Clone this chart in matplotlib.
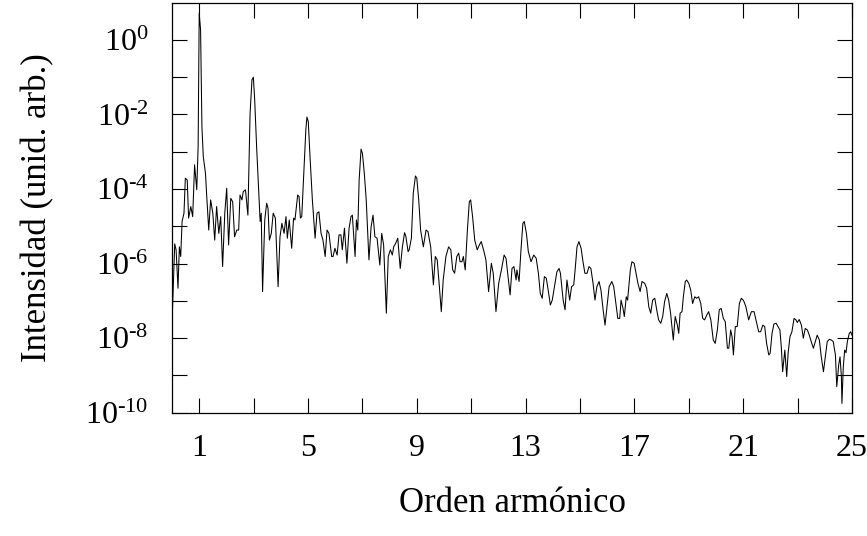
import numpy as np
import matplotlib
matplotlib.use("Agg")
import matplotlib.pyplot as plt
from matplotlib.ticker import FixedLocator, FuncFormatter, NullLocator

# Harmonic order (x) and log10 of intensity (arb. units)
harmonic_order = [
    0.00, 0.10, 0.15, 0.22, 0.27, 0.32, 0.37, 0.44, 0.49, 0.56, 0.61, 0.69, 0.76, 0.83, 0.91, 0.96,
    1.00, 1.05, 1.10, 1.15, 1.23, 1.27, 1.35, 1.42, 1.50, 1.57, 1.64, 1.72, 1.79, 1.86, 1.94,
    2.01, 2.08, 2.16, 2.23, 2.30, 2.38, 2.45, 2.50, 2.57, 2.62, 2.70, 2.79, 2.87, 2.94, 2.99,
    3.04, 3.11, 3.19, 3.24, 3.28, 3.33, 3.41, 3.48, 3.53, 3.58, 3.65, 3.72, 3.80, 3.90, 3.97,
    4.04, 4.12, 4.19, 4.24, 4.31, 4.40, 4.47, 4.52, 4.62, 4.67, 4.72, 4.77, 4.84, 4.92, 4.96,
    5.01, 5.08, 5.16, 5.26, 5.33, 5.40, 5.48, 5.55, 5.63, 5.70, 5.77, 5.87, 5.92, 5.99,
    6.07, 6.14, 6.21, 6.26, 6.34, 6.43, 6.51, 6.58, 6.63, 6.73, 6.78, 6.83, 6.88, 6.95,
    7.00, 7.07, 7.14, 7.24, 7.32, 7.39, 7.46, 7.54, 7.64, 7.71, 7.78, 7.88, 7.95,
    8.03, 8.10, 8.15, 8.22, 8.30, 8.39, 8.47, 8.55, 8.60, 8.68, 8.72, 8.80, 8.87, 8.95,
    9.00, 9.07, 9.14, 9.24, 9.34, 9.41, 9.51, 9.61, 9.68, 9.75, 9.83, 9.90, 9.97,
    10.07, 10.17, 10.25, 10.32, 10.39, 10.47, 10.54, 10.59, 10.66, 10.71, 10.78, 10.86, 10.93, 10.98,
    11.05, 11.13, 11.22, 11.30, 11.37, 11.47, 11.54, 11.64, 11.74, 11.81, 11.91,
    12.01, 12.11, 12.21, 12.28, 12.35, 12.43, 12.50, 12.57, 12.65, 12.68, 12.76, 12.83, 12.90, 12.95,
    13.03, 13.10, 13.20, 13.30, 13.39, 13.47, 13.54, 13.61, 13.69, 13.76, 13.83, 13.91, 13.98,
    14.06, 14.15, 14.23, 14.28, 14.38, 14.45, 14.52, 14.57, 14.62, 14.69, 14.77, 14.82, 14.89, 14.96,
    15.04, 15.11, 15.18, 15.26, 15.33, 15.40, 15.48, 15.55, 15.62, 15.70, 15.77, 15.85, 15.92, 15.99,
    16.07, 16.17, 16.24, 16.31, 16.39, 16.46, 16.51, 16.58, 16.63, 16.70, 16.75, 16.85, 16.91, 16.99,
    17.06, 17.13, 17.21, 17.28, 17.38, 17.45, 17.53, 17.60, 17.67, 17.75, 17.82, 17.89, 17.97,
    18.04, 18.11, 18.19, 18.26, 18.33, 18.43, 18.50, 18.58, 18.63, 18.68, 18.75, 18.80, 18.87, 18.92,
    19.00, 19.07, 19.14, 19.22, 19.29, 19.36, 19.44, 19.51, 19.58, 19.66, 19.73, 19.81, 19.90, 19.97,
    20.05, 20.12, 20.19, 20.27, 20.34, 20.42, 20.47, 20.54, 20.59, 20.64, 20.71, 20.78, 20.86, 20.93,
    21.00, 21.03, 21.10, 21.20, 21.30, 21.40, 21.47, 21.57, 21.64, 21.72, 21.79, 21.86, 21.94, 21.99,
    22.06, 22.13, 22.21, 22.28, 22.35, 22.40, 22.45, 22.53, 22.60, 22.65, 22.72, 22.79, 22.87, 22.94, 22.99,
    23.06, 23.14, 23.21, 23.28, 23.36, 23.43, 23.50, 23.58, 23.65, 23.72, 23.80, 23.87, 23.95,
    24.02, 24.09, 24.17, 24.24, 24.31, 24.39, 24.44, 24.51, 24.56, 24.61, 24.63, 24.68, 24.73, 24.78,
    24.83, 24.90, 24.95, 25.00,
]

log_intensity = [
    -7.60, -5.47, -5.63, -6.66, -5.55, -5.81, -4.87, -4.65, -3.71, -3.76, -4.78, -4.47, -4.74, -3.35, -4.02, -2.86,
    0.72, 0.27, -2.33, -3.13, -3.58, -4.11, -5.10, -4.29, -4.65, -5.37, -4.47, -5.19, -4.74, -6.08, -4.65,
    -3.98, -5.50, -4.25, -4.34, -5.28, -5.10, -5.10, -4.16, -4.29, -4.07, -4.02, -4.70, -1.97, -1.07, -1.00,
    -1.61, -2.86, -4.11, -4.87, -4.65, -6.75, -4.83, -4.38, -4.52, -5.37, -5.19, -4.65, -4.78, -6.62, -5.28,
    -4.92, -5.19, -4.74, -5.32, -4.83, -5.59, -4.78, -4.83, -4.16, -4.20, -4.78, -4.74, -3.67, -2.41, -2.07,
    -2.19, -3.22, -4.29, -5.32, -4.65, -4.61, -5.19, -5.37, -5.81, -5.10, -5.19, -5.81, -5.81, -5.59,
    -5.77, -5.23, -5.23, -5.63, -5.05, -5.99, -5.05, -4.74, -4.70, -5.81, -4.83, -5.10, -3.76, -2.93,
    -3.04, -3.58, -4.29, -5.90, -5.01, -4.70, -5.28, -5.32, -6.04, -5.19, -5.50, -7.33, -5.81,
    -5.63, -5.77, -5.55, -5.46, -5.32, -6.13, -5.55, -5.17, -5.28, -5.68, -5.63, -5.32, -4.11, -3.65,
    -3.71, -4.29, -5.10, -5.55, -5.10, -5.14, -5.55, -6.57, -5.81, -5.90, -6.62, -7.29, -6.44,
    -5.81, -5.55, -5.63, -6.17, -6.26, -5.81, -5.72, -5.95, -5.95, -5.81, -6.17, -5.10, -4.34, -4.29,
    -4.74, -5.37, -5.63, -5.50, -5.41, -5.68, -5.90, -6.75, -5.99, -6.26, -7.29,
    -6.53, -6.17, -5.77, -5.86, -6.31, -6.84, -6.13, -6.08, -6.44, -6.17, -6.48, -5.63, -4.92, -4.87,
    -5.19, -5.68, -5.95, -5.77, -5.86, -6.26, -6.80, -6.93, -6.35, -6.39, -6.71, -7.11, -6.98,
    -6.62, -6.22, -6.13, -6.26, -6.98, -7.24, -6.44, -6.71, -6.98, -6.62, -6.57, -6.17, -5.55, -5.41,
    -5.59, -5.95, -6.26, -6.26, -6.08, -6.13, -6.53, -6.98, -6.62, -6.48, -6.71, -7.24, -7.65, -7.16,
    -6.62, -6.48, -6.62, -7.02, -7.47, -7.47, -6.98, -7.20, -7.42, -6.89, -6.98, -6.17, -5.95, -5.99,
    -6.26, -6.53, -6.75, -6.48, -6.53, -6.66, -7.16, -7.33, -6.98, -6.93, -7.24, -7.51, -7.60,
    -7.42, -7.02, -6.80, -6.98, -7.33, -8.05, -7.42, -7.65, -7.87, -7.33, -7.29, -6.89, -6.48, -6.44,
    -6.53, -6.71, -7.07, -6.89, -6.93, -6.89, -7.07, -7.47, -7.51, -7.38, -7.29, -7.51, -8.05, -8.14,
    -7.78, -7.24, -7.20, -7.47, -7.56, -8.27, -8.27, -7.78, -7.96, -8.45, -7.69, -7.69, -7.07, -6.93,
    -6.98, -7.02, -7.16, -7.51, -7.29, -7.29, -7.51, -7.83, -7.83, -7.65, -7.69, -8.14, -8.45, -8.41,
    -7.87, -7.62, -7.60, -7.69, -7.78, -8.23, -8.90, -8.32, -9.03, -8.41, -7.96, -7.83, -7.47, -7.51, -7.58,
    -7.50, -7.65, -8.00, -7.74, -7.78, -7.92, -8.09, -8.27, -8.09, -7.92, -8.05, -8.50, -8.90,
    -8.50, -8.09, -8.03, -8.05, -8.09, -8.45, -9.30, -8.72, -8.50, -9.03, -9.75, -8.77, -8.32, -8.39,
    -8.09, -7.87, -7.83, -7.92,
]

x_ticks = [1, 3, 5, 7, 9, 11, 13, 15, 17, 19, 21, 23, 25]
x_ticklabels = ["1", "", "5", "", "9", "", "13", "", "17", "", "21", "", "25"]
y_exponents = list(range(-10, 1))
y_label_exponents = [0, -2, -4, -6, -8, -10]

plt.rcParams["font.family"] = ["Liberation Serif", "DejaVu Serif"]
plt.rcParams["mathtext.fontset"] = "custom"
plt.rcParams["mathtext.rm"] = "Liberation Serif"
plt.rcParams["mathtext.it"] = "Liberation Serif:italic"
plt.rcParams["mathtext.bf"] = "Liberation Serif:bold"

fig = plt.figure(figsize=(8.67, 5.36), dpi=100)
ax = fig.add_axes([0.1984, 0.230, 0.7843, 0.7644])

ax.plot(harmonic_order, np.power(10.0, log_intensity), color="black", lw=0.75)

ax.set_yscale("log")
ax.set_xlim(0, 25)
ax.set_ylim(1e-10, 10 ** 0.99)

ax.xaxis.set_major_locator(FixedLocator(x_ticks))
ax.set_xticklabels(x_ticklabels)
ax.yaxis.set_major_locator(FixedLocator([10.0 ** e for e in y_exponents]))


def ylab(v, pos):
    e = int(round(np.log10(v)))
    if e in y_label_exponents:
        return r"$10^{\text{%d}}$" % e
    return ""


ax.yaxis.set_major_formatter(FuncFormatter(ylab))
ax.yaxis.set_minor_locator(NullLocator())
ax.xaxis.set_minor_locator(NullLocator())

ax.tick_params(axis="both", which="major", direction="in", length=10.5, width=0.8,
               top=True, right=True, labelsize=23, colors="black")
ax.tick_params(axis="y", pad=17)
ax.tick_params(axis="x", pad=15)

for s in ax.spines.values():
    s.set_linewidth(0.9)

ax.set_xlabel("Orden armónico", fontsize=25)
ax.set_ylabel("Intensidad (unid. arb.)", fontsize=25)
ax.xaxis.set_label_coords(0.5, -0.181)
ax.yaxis.set_label_coords(-0.1736, 0.5)

fig.savefig("out.png", dpi=100)
